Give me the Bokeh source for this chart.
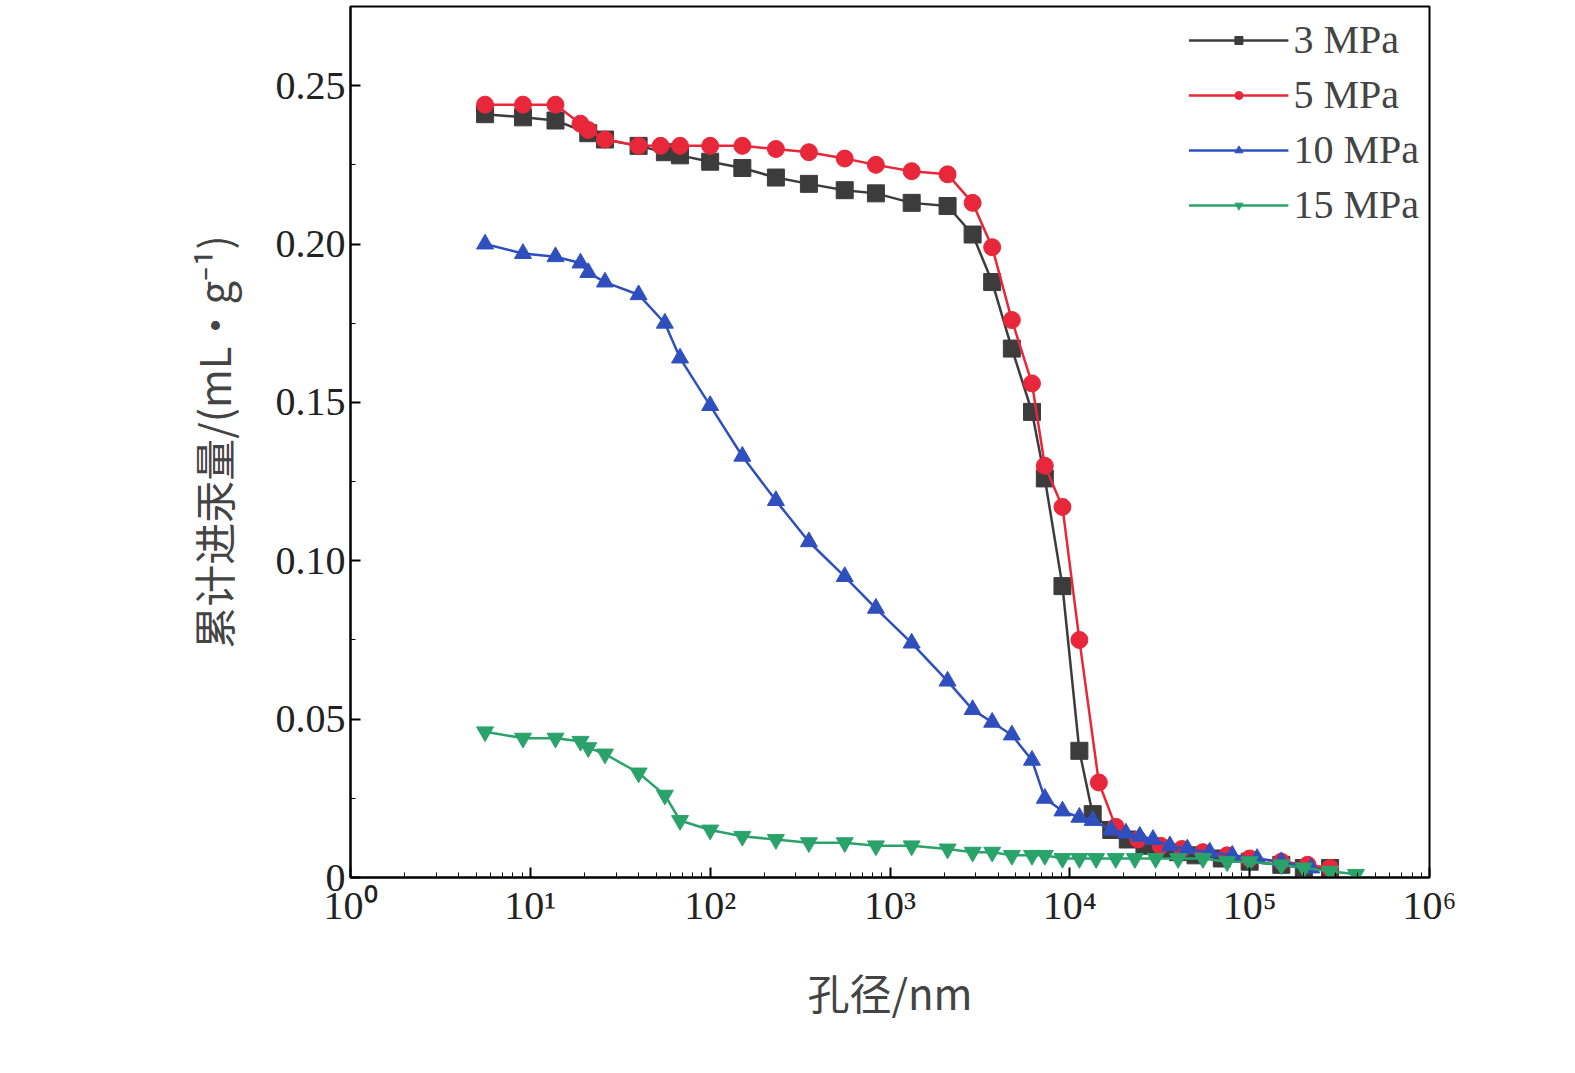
from bokeh.plotting import figure
from bokeh.models import Range1d, CustomJSTickFormatter, Legend, LegendItem, FixedTicker
from bokeh.embed import file_html
from bokeh.resources import INLINE

x3 = [5.6,9.1,13.8,21,26,40,56,68,100,151,232,354,560,835,1320,2090,2880,3700,4760,6160,7260,9100,11300,13400,17000,21000,26000,32000,40000,50000,70000,100000,150000,200000,280000]
y3 = [0.241,0.240,0.239,0.235,0.233,0.231,0.229,0.228,0.226,0.224,0.221,0.219,0.217,0.216,0.213,0.212,0.203,0.188,0.167,0.147,0.126,0.092,0.040,0.020,0.015,0.012,0.010,0.009,0.008,0.007,0.006,0.005,0.004,0.003,0.003]
x5 = [5.6,9.1,13.8,19,21,26,40,53,68,100,151,232,354,560,835,1320,2090,2880,3700,4760,6160,7260,9100,11300,14500,18000,24000,32000,42000,55000,75000,100000,150000,210000,280000]
y5 = [0.244,0.244,0.244,0.238,0.236,0.233,0.231,0.231,0.231,0.231,0.231,0.230,0.229,0.227,0.225,0.223,0.222,0.213,0.199,0.176,0.156,0.130,0.117,0.075,0.030,0.016,0.012,0.010,0.009,0.008,0.007,0.006,0.005,0.004,0.003]
x10 = [5.6,9.1,13.8,19,21,26,40,56,68,100,151,232,354,560,835,1320,2090,2880,3700,4760,6160,7260,9100,11300,13400,17000,20500,24500,29000,36000,45000,60000,80000,110000,150000,220000]
y10 = [0.200,0.197,0.196,0.194,0.191,0.188,0.184,0.175,0.164,0.149,0.133,0.119,0.106,0.095,0.085,0.074,0.062,0.053,0.049,0.045,0.037,0.025,0.021,0.019,0.018,0.015,0.014,0.013,0.012,0.010,0.009,0.008,0.007,0.006,0.005,0.003]
x15 = [5.6,9.1,13.8,19,21,26,40,56,68,100,151,232,354,560,835,1320,2090,2880,3700,4760,6160,7260,9100,11300,14000,18000,23000,30000,40000,55000,75000,100000,150000,200000,280000,390000]
y15 = [0.046,0.044,0.044,0.043,0.041,0.039,0.033,0.026,0.018,0.015,0.013,0.012,0.011,0.011,0.010,0.010,0.009,0.008,0.008,0.007,0.007,0.007,0.006,0.006,0.006,0.006,0.006,0.006,0.006,0.006,0.005,0.005,0.004,0.003,0.002,0.001]

SERIF = "Liberation Serif"
p = figure(width=1559, height=1057, x_axis_type="log", output_backend="svg", toolbar_location=None,
           x_range=Range1d(1, 1e6), y_range=Range1d(0, 0.275),
           min_border_left=350, min_border_right=130, min_border_top=6, min_border_bottom=180)
p.grid.visible = False
p.outline_line_color = "black"
p.outline_line_width = 2

p.xaxis.formatter = CustomJSTickFormatter(code="""
const s={'0':'⁰','1':'¹','2':'²','3':'³','4':'⁴','5':'⁵','6':'⁶','-':'⁻'};
const n=Math.round(Math.log10(tick)); return '10'+String(n).split('').map(c=>s[c]).join('');""")
p.xaxis.ticker.desired_num_ticks = 7
p.yaxis.ticker = FixedTicker(ticks=[0,0.05,0.10,0.15,0.20,0.25], minor_ticks=[0.025,0.075,0.125,0.175,0.225])
p.yaxis.formatter = CustomJSTickFormatter(code="return tick==0?'0':tick.toFixed(2);")
for ax in [p.xaxis[0], p.yaxis[0]]:
    ax.major_label_text_font = SERIF
    ax.major_label_text_font_size = "40px"
    ax.axis_label_text_font_size = "42px"
    ax.axis_label_text_font_style = "normal"
    ax.axis_label_text_font = "Noto Sans CJK SC"
    ax.major_tick_in = 10; ax.major_tick_out = 0
    ax.minor_tick_in = 5; ax.minor_tick_out = 0
    ax.axis_line_width = 2; ax.major_tick_line_width = 2
    ax.major_label_text_color = "#222"
    ax.axis_label_standoff = 30
p.xaxis.axis_label = "孔径/nm"
p.yaxis.axis_label = "累计进汞量/(mL·g⁻¹)"

series = [("3 MPa", x3, y3, "#3c3c3c", "square"),
          ("5 MPa", x5, y5, "#e8273a", "circle"),
          ("10 MPa", x10, y10, "#2f4fbf", "triangle"),
          ("15 MPa", x15, y15, "#2aa36b", "inverted_triangle")]
items = []
for name, xs, ys, c, m in series:
    l = p.line(xs, ys, line_color=c, line_width=2.5)
    s = p.scatter(xs, ys, marker=m, size=17, fill_color=c, line_color=c)
    items.append(LegendItem(label=name, renderers=[l, s]))
leg = Legend(items=items, location="top_right", border_line_color=None, background_fill_alpha=0,
             label_text_font=SERIF, label_text_font_size="40px", glyph_width=100, spacing=8, padding=5)
p.add_layout(leg)

open("out.html", "w").write(file_html(p, INLINE))
